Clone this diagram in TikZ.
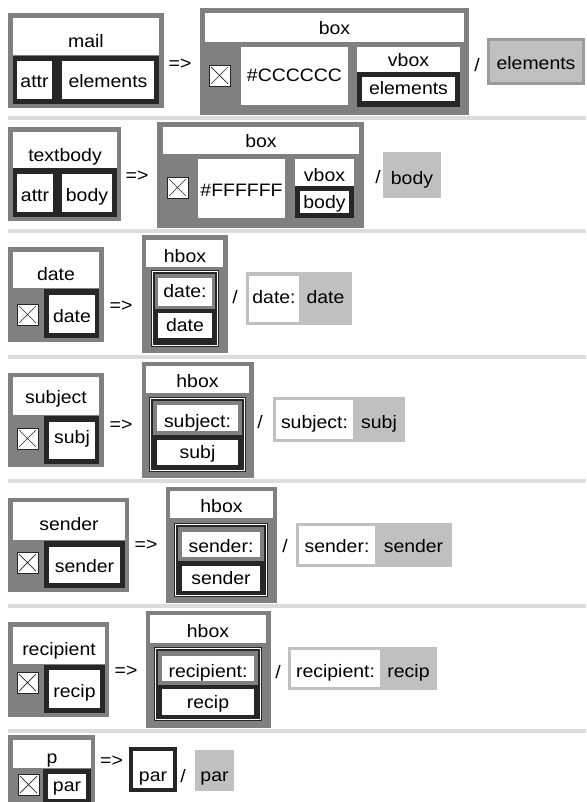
\documentclass[tikz,border=0pt]{standalone}
\usepackage{fontspec}
\setmainfont[FakeStretch=1.08]{Liberation Sans}
\usepackage{tikz}
\definecolor{boxgrey}{HTML}{808080}
\definecolor{boxdark}{HTML}{262626}
\definecolor{reslight}{HTML}{C0C0C0}
\definecolor{resedge}{HTML}{9C9C9C}
\definecolor{seprule}{HTML}{DCDCDC}

\begin{document}
\begin{tikzpicture}[x=1pt,y=-1pt,
    lbl/.style={font=\fontsize{18}{20}\selectfont,inner sep=0pt,anchor=base},
    sym/.style={font=\fontsize{18}{20}\selectfont,inner sep=0pt},
    outer/.style={fill=boxgrey},
    inner/.style={fill=boxdark},
    cell/.style={fill=white},
    result/.style={fill=reslight},
    xbox/.style={fill=white,draw=boxdark,line width=0.8pt}]
\useasboundingbox (0,0) rectangle (586,802);
\clip (0,0) rectangle (586,802);
\foreach \sy in {116,229,355,479,604,729}
  \fill[seprule] (8,\sy) rectangle (586,\sy+4);

% mail
\fill[outer] (8,13) rectangle (164,108);
\fill[cell] (13,18) rectangle (159,55);
\fill[inner] (13,56) rectangle (159,104);
\fill[cell] (17,61) rectangle (52,99);
\fill[cell] (62,61) rectangle (154,99);
\node[lbl] (mail) at (86,48) {mail};
\node[lbl] (mail-attr) at (34.5,88) {attr};
\node[lbl] (mail-elements) at (108,88) {elements};
\node[sym] (to-mail) at (180,64.5) {=>};
\fill[outer] (200,8) rectangle (469,115);
\fill[cell] (205,13) rectangle (464,42);
\fill[cell] (241,47) rectangle (348,105);
\fill[cell] (357,47) rectangle (460,72);
\fill[inner] (357,72) rectangle (460,107);
\fill[cell] (362,77) rectangle (455,101);
\node[lbl] (box-mail) at (334.5,35) {box};
\node[lbl] (bg-mail) at (294.5,82) {\#CCCCCC};
\node[lbl] (vbox-mail) at (408.5,67) {vbox};
\node[lbl] (vbox-elements) at (408.5,95) {elements};
\node[sym] (or-mail) at (477,65) {/};
\filldraw[result,draw=resedge,line width=3pt] (488.5,39.5) rectangle (583.5,83.5);
\node[lbl] (res-elements) at (536,70) {elements};

% textbody
\fill[outer] (8,127) rectangle (121,221);
\fill[cell] (13,132) rectangle (117,168);
\fill[inner] (13,168) rectangle (117,217);
\fill[cell] (17,174) rectangle (53,212);
\fill[cell] (62,174) rectangle (112,212);
\node[lbl] (textbody) at (65,161.5) {textbody};
\node[lbl] (textbody-attr) at (35,202) {attr};
\node[lbl] (textbody-body) at (87,202) {body};
\node[sym] (to-textbody) at (137,176.5) {=>};
\fill[outer] (157,122) rectangle (364,228);
\fill[cell] (163,127) rectangle (359,154);
\fill[cell] (198,159) rectangle (285,218);
\fill[cell] (295,159) rectangle (354,186);
\fill[inner] (295,186) rectangle (354,218);
\fill[cell] (300,191) rectangle (349,213);
\node[lbl] (box-textbody) at (261,148) {box};
\node[lbl] (bg-textbody) at (241.5,197) {\#FFFFFF};
\node[lbl] (vbox-textbody) at (324.5,182) {vbox};
\node[lbl] (vbox-body) at (324.5,209) {body};
\node[sym] (or-textbody) at (378,177) {/};
\fill[result] (383,152) rectangle (441,198);
\node[lbl] (res-body) at (412,185) {body};

% date
\fill[outer] (8,247) rectangle (104,342);
\fill[cell] (13,252) rectangle (99,288);
\fill[inner] (44,289) rectangle (99,338);
\fill[cell] (49,295) rectangle (95,333);
\node[lbl] (date) at (56,280) {date};
\node[lbl] (date-in) at (72,322) {date};
\node[sym] (to-date) at (121,306.5) {=>};
\fill[outer] (142,235) rectangle (228,353);
\fill[cell] (146,240) rectangle (223,267);
\fill[inner] (151,270) rectangle (219,347);
\draw[white,line width=1pt] (152.5,271.5) rectangle (217.5,345.5);
\fill[outer] (155,274) rectangle (215,309);
\fill[cell] (158,278) rectangle (212,306);
\fill[cell] (158,313) rectangle (212,338);
\node[lbl] (hbox-date) at (185,262) {hbox};
\node[lbl] (key-date) at (185,297) {date:};
\node[lbl] (val-date) at (185,331) {date};
\node[sym] (or-date) at (235,297) {/};
\fill[result] (246,272) rectangle (352,325);
\fill[cell] (249,276) rectangle (299,322);
\node[lbl] (res-key-date) at (274,303) {date:};
\node[lbl] (res-date) at (325.5,303) {date};

% subject
\fill[outer] (8,373) rectangle (104,467);
\fill[cell] (13,377) rectangle (99,415);
\fill[inner] (44,416) rectangle (99,464);
\fill[cell] (49,422) rectangle (95,459);
\node[lbl] (subject) at (56,403.5) {subject};
\node[lbl] (subject-in) at (72,443) {subj};
\node[sym] (to-subject) at (121,425) {=>};
\fill[outer] (142,362) rectangle (254,478);
\fill[cell] (146,366) rectangle (249,393);
\fill[inner] (149,397) rectangle (246,472);
\draw[white,line width=1pt] (150.5,398.5) rectangle (244.5,470.5);
\fill[outer] (153,401) rectangle (242,435);
\fill[cell] (157,405) rectangle (238,431);
\fill[cell] (157,440) rectangle (238,465);
\node[lbl] (hbox-subject) at (197.5,387) {hbox};
\node[lbl] (key-subject) at (197.5,427) {subject:};
\node[lbl] (val-subject) at (197.5,458) {subj};
\node[sym] (or-subject) at (260,422) {/};
\fill[result] (273,397) rectangle (405,442);
\fill[cell] (276,400) rectangle (353,439);
\node[lbl] (res-key-subject) at (314.5,428) {subject:};
\node[lbl] (res-subject) at (379,428) {subj};

% sender
\fill[outer] (8,498) rectangle (129,592);
\fill[cell] (13,502) rectangle (125,540);
\fill[inner] (44,541) rectangle (125,588);
\fill[cell] (49,547) rectangle (120,583);
\node[lbl] (sender) at (69,530) {sender};
\node[lbl] (sender-in) at (84.5,572) {sender};
\node[sym] (to-sender) at (146,545.5) {=>};
\fill[outer] (166,487) rectangle (277,603);
\fill[cell] (170,491) rectangle (273,518);
\fill[inner] (174,523) rectangle (268,597);
\draw[white,line width=1pt] (175.5,524.5) rectangle (266.5,595.5);
\fill[outer] (178,527) rectangle (264,561);
\fill[cell] (182,532) rectangle (260,557);
\fill[cell] (182,566) rectangle (260,591);
\node[lbl] (hbox-sender) at (221.5,512) {hbox};
\node[lbl] (key-sender) at (221,552) {sender:};
\node[lbl] (val-sender) at (221,584) {sender};
\node[sym] (or-sender) at (285,546) {/};
\fill[result] (296,523) rectangle (452,567);
\fill[cell] (299,526) rectangle (375,564);
\node[lbl] (res-key-sender) at (337,552) {sender:};
\node[lbl] (res-sender) at (413.5,552) {sender};

% recipient
\fill[outer] (8,622) rectangle (109,717);
\fill[cell] (13,627) rectangle (105,664);
\fill[inner] (44,665) rectangle (105,713);
\fill[cell] (49,670) rectangle (100,708);
\node[lbl] (recipient) at (59,655) {recipient};
\node[lbl] (recipient-in) at (74.5,697) {recip};
\node[sym] (to-recipient) at (126,671.5) {=>};
\fill[outer] (146,611) rectangle (271,728);
\fill[cell] (150,615) rectangle (266,643);
\fill[inner] (154,647) rectangle (262,721);
\draw[white,line width=1pt] (155.5,648.5) rectangle (260.5,719.5);
\fill[outer] (158,651) rectangle (258,685);
\fill[cell] (162,656) rectangle (254,681);
\fill[cell] (162,689) rectangle (254,715);
\node[lbl] (hbox-recipient) at (208,637) {hbox};
\node[lbl] (key-recipient) at (208,677) {recipient:};
\node[lbl] (val-recipient) at (208,708) {recip};
\node[sym] (or-recipient) at (278,672) {/};
\fill[result] (288,647) rectangle (437,690);
\fill[cell] (291,650) rectangle (380,687);
\node[lbl] (res-key-recipient) at (335.5,677) {recipient:};
\node[lbl] (res-recipient) at (408.5,677) {recip};

% p
\fill[outer] (8,735) rectangle (95,806);
\fill[cell] (13,740) rectangle (91,768);
\fill[inner] (43,769) rectangle (91,806);
\fill[cell] (48,774) rectangle (86,799);
\node[lbl] (p) at (52,763) {p};
\node[lbl] (p-in) at (67,791) {par};
\node[sym] (to-p) at (111.5,761.5) {=>};
\filldraw[cell,draw=boxdark,line width=4pt] (131,749) rectangle (175,790);
\node[lbl] (par) at (153,781) {par};
\node[sym] (or-p) at (183,776) {/};
\fill[result] (195,750) rectangle (234,791);
\node[lbl] (res-par) at (214.5,781) {par};

\foreach \cx/\cy in {209/65,167/177,17/304,17/428,17/552,17/672,18/774}{
  \filldraw[xbox] (\cx,\cy) rectangle ++(21,21);
  \draw[boxdark,line width=0.7pt] (\cx+2,\cy+2) -- ++(17,17) (\cx+19,\cy+2) -- ++(-17,17);
}
\end{tikzpicture}
\end{document}
